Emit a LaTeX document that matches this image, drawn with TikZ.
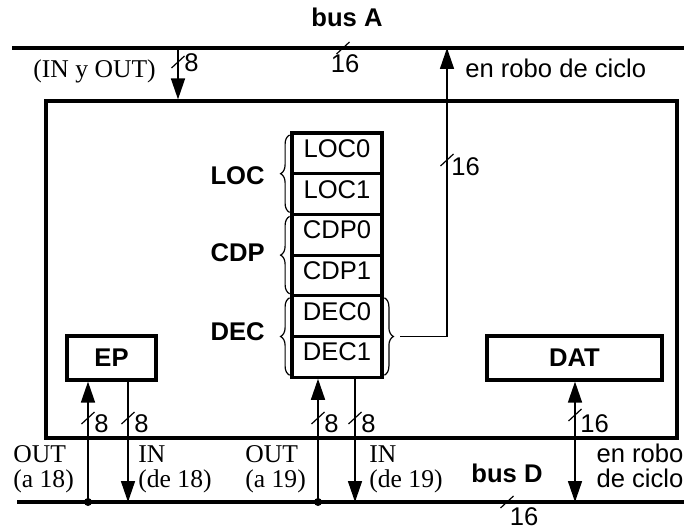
\documentclass[tikz,border=0pt]{standalone}
\usepackage{fontspec}
\setmainfont{Liberation Serif}
\setsansfont{Liberation Sans}
\usetikzlibrary{arrows.meta,positioning,decorations.pathreplacing}

\begin{document}
\begin{tikzpicture}[x=0.5pt,y=-0.5pt,
    every node/.style={font=\sffamily\fontsize{12.8}{12.5}\selectfont,inner sep=0pt},
    bus/.style={line width=1.6pt},
    box/.style={draw,line width=1.6pt,rectangle},
    reg/.style={box,minimum width=45pt,minimum height=20.35pt,outer sep=0pt,
      text height=9pt,text depth=5pt},
    unit/.style={box,minimum width=44.5pt,minimum height=22pt,
      font=\sffamily\bfseries\fontsize{12.8}{12.5}\selectfont},
    sig/.style={line width=0.8pt},
    tip/.style={-{Triangle[length=10.5pt,width=7pt]}},
    dtip/.style={{Triangle[length=10.5pt,width=7pt]}-{Triangle[length=10.5pt,width=7pt]}},
    grp/.style={decorate,decoration={brace,amplitude=4.5pt},line width=0.6pt},
    tag/.style={font=\sffamily\bfseries\fontsize{12.8}{12.5}\selectfont},
    rmlbl/.style={font=\rmfamily\fontsize{12.8}{12.5}\selectfont,align=left},
    slash/.pic={\draw[line width=0.6pt] (-6.5,6) -- (6.5,-6);},
    dot/.style={circle,fill,inner sep=0pt,minimum size=4pt}]
  \useasboundingbox (0,0) rectangle (690,529);

  % buses
  \coordinate (aw) at (12,48);  \coordinate (ae) at (684,48);
  \coordinate (dw) at (17,502); \coordinate (de) at (684,502);
  \draw[bus] (aw) -- (ae);
  \draw[bus] (dw) -- (de);
  \node[tag,anchor=base] (busA) at (347,27) {bus A};
  \pic at (343,48) {slash};
  \node[anchor=base] (wA) at (345,73) {16};
  \node[tag,anchor=base] (busD) at (507,482) {bus D};
  \pic at (507,502) {slash};
  \node[anchor=base] (wD) at (524,525) {16};

  % controller
  \node[box,minimum width=315.5pt,minimum height=168.5pt] (dma) at (361.5,269.5) {};

  % register stack
  \node[reg] (loc0) at (337,153.35) {LOC0};
  \node[reg,below=0pt of loc0] (loc1) {LOC1};
  \node[reg,below=0pt of loc1] (cdp0) {CDP0};
  \node[reg,below=0pt of cdp0] (cdp1) {CDP1};
  \node[reg,below=0pt of cdp1] (dec0) {DEC0};
  \node[reg,below=0pt of dec0] (dec1) {DEC1};
  \draw[grp] ([xshift=-1.2pt,yshift=1pt]loc1.south west) -- ([xshift=-1.2pt,yshift=-1pt]loc0.north west);
  \draw[grp] ([xshift=-1.2pt,yshift=1pt]cdp1.south west) -- ([xshift=-1.2pt,yshift=-1pt]cdp0.north west);
  \draw[grp] ([xshift=-1.2pt,yshift=1pt]dec1.south west) -- ([xshift=-1.2pt,yshift=-1pt]dec0.north west);
  \draw[grp] ([xshift=1.2pt,yshift=-1pt]dec0.north east) -- ([xshift=1.2pt,yshift=1pt]dec1.south east);
  \node[tag,anchor=base east] (loctag) at (265,185) {LOC};
  \node[tag,anchor=base east] (cdptag) at (265,262) {CDP};
  \node[tag,anchor=base east] (dectag) at (265,340) {DEC};

  % address out to bus A
  \coordinate (dectip) at ([xshift=9pt]dec0.south east);
  \coordinate (a16) at (447,48);
  \draw[sig,tip] (dectip) -- (dectip -| a16) -- (a16);
  \pic at (447,160) {slash};
  \node[anchor=base west] (w16) at (451,176) {16};
  \node[anchor=base west] (roboA) at (465,78) {en robo de ciclo};

  % IN y OUT from bus A
  \coordinate (a8) at (178,48);
  \draw[sig,tip] (a8) -- (a8 |- dma.north);
  \pic at (178,62) {slash};
  \node[anchor=base west] (w8) at (184,72) {8};
  \node[rmlbl,anchor=base west] (inout) at (33,78) {(IN y OUT)};

  % EP and DAT
  \node[unit] (ep) at (111.5,358) {EP};
  \node[unit,minimum width=87.5pt] (dat) at (574.5,358) {DAT};

  % to and from bus D
  \coordinate (d1) at (88,502);  \coordinate (d2) at (128,502);
  \coordinate (d3) at (318,502); \coordinate (d4) at (355,502);
  \coordinate (d5) at (575,502);
  \draw[sig,tip] (d1) -- (d1 |- ep.south);
  \draw[sig,tip] (d2 |- ep.south) -- (d2);
  \draw[sig,tip,shorten >=0.8pt] (d3) -- (d3 |- dec1.south);
  \draw[sig,tip] ([yshift=-0.8pt]d4 |- dec1.south) -- (d4);
  \draw[sig,dtip] (d5 |- dat.south) -- (d5);
  \node[dot] (j1) at (d1) {};
  \node[dot] (j3) at (d3) {};
  \pic at (88,418) {slash};  \node[anchor=base west] (w1) at (94,432) {8};
  \pic at (128,418) {slash}; \node[anchor=base west] (w2) at (134,432) {8};
  \pic at (318,418) {slash}; \node[anchor=base west] (w3) at (324,432) {8};
  \pic at (355,418) {slash}; \node[anchor=base west] (w4) at (361,432) {8};
  \pic at (575,415) {slash}; \node[anchor=base west] (w5) at (580,432) {16};

  % multi-line labels sit on their last line
  \node[rmlbl,anchor=base west] (out18) at (13,487) {OUT\\(a 18)};
  \node[rmlbl,anchor=base west] (in18) at (138,487) {IN\\(de 18)};
  \node[rmlbl,anchor=base west] (out19) at (245,487) {OUT\\(a 19)};
  \node[rmlbl,anchor=base west] (in19) at (369,487) {IN\\(de 19)};
  \node[align=center,anchor=base] (roboD) at (640,487) {en robo\\de ciclo};
\end{tikzpicture}
\end{document}
